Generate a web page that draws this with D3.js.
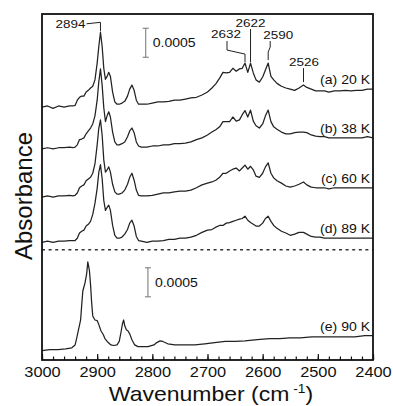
<!DOCTYPE html>
<html>
<head>
<meta charset="utf-8">
<script src="https://cdn.jsdelivr.net/npm/d3@7"></script>
<style>
  body { margin: 0; background: #fff; }
  text { font-family: "Liberation Sans", Arial, sans-serif; fill: #111; }
</style>
</head>
<body>
<div id="chart"></div>
<script>
// wavenumber grid (cm-1) for spectra a-d
var wn = [3000, 2990, 2980, 2970, 2960, 2950, 2944, 2940, 2936, 2932,
  2928, 2924, 2920, 2916, 2912, 2908, 2904, 2900, 2897, 2894,
  2891, 2888, 2885, 2882, 2879, 2876, 2872, 2868, 2864, 2860,
  2855, 2850, 2845, 2841, 2837, 2833, 2829, 2825, 2820, 2810,
  2800, 2790, 2780, 2770, 2760, 2750, 2740, 2730, 2720, 2710,
  2700, 2692, 2685, 2678, 2672, 2666, 2660, 2654, 2648, 2642,
  2637, 2632, 2627, 2622, 2617, 2612, 2606, 2600, 2595, 2590,
  2585, 2580, 2574, 2566, 2558, 2550, 2542, 2534, 2526, 2520,
  2512, 2504, 2496, 2488, 2480, 2470, 2460, 2450, 2440, 2430,
  2420, 2410, 2400];

// absorbance in units of 1e-3, relative to each trace's left baseline
var absA = [0, 0.02, -0.02, 0.02, 0, 0.02, 0.02, 0.03, 0.12, 0.17,
  0.19, 0.19, 0.26, 0.29, 0.33, 0.36, 0.47, 0.76, 1.05, 1.29,
  1.05, 0.67, 0.48, 0.53, 0.60, 0.53, 0.26, 0.09, 0.05, 0.05,
  0.07, 0.10, 0.19, 0.31, 0.38, 0.29, 0.12, 0.05, 0.05, 0.05,
  0.07, 0.09, 0.09, 0.10, 0.12, 0.12, 0.14, 0.16, 0.17, 0.21,
  0.26, 0.33, 0.40, 0.50, 0.60, 0.59, 0.60, 0.67, 0.62, 0.66,
  0.67, 0.76, 0.60, 0.76, 0.59, 0.47, 0.43, 0.52, 0.64, 0.76,
  0.53, 0.47, 0.41, 0.36, 0.33, 0.31, 0.29, 0.33, 0.38, 0.34,
  0.31, 0.28, 0.28, 0.28, 0.26, 0.28, 0.28, 0.29, 0.28, 0.29,
  0.29, 0.31, 0.31];

var absB = [0, 0.02, 0, 0.02, 0.02, 0.03, 0.02, 0.03, 0.07, 0.16,
  0.17, 0.19, 0.26, 0.31, 0.36, 0.43, 0.57, 0.84, 1.16, 1.38,
  1.10, 0.71, 0.47, 0.57, 0.64, 0.55, 0.29, 0.12, 0.07, 0.07,
  0.09, 0.12, 0.21, 0.31, 0.36, 0.28, 0.12, 0.05, 0.03, 0.03,
  0.05, 0.05, 0.07, 0.07, 0.09, 0.09, 0.10, 0.12, 0.16, 0.19,
  0.24, 0.29, 0.33, 0.38, 0.47, 0.47, 0.47, 0.55, 0.48, 0.50,
  0.59, 0.66, 0.55, 0.67, 0.48, 0.40, 0.36, 0.43, 0.57, 0.67,
  0.47, 0.38, 0.34, 0.29, 0.26, 0.26, 0.28, 0.29, 0.29, 0.28,
  0.24, 0.22, 0.21, 0.21, 0.19, 0.19, 0.19, 0.19, 0.19, 0.19,
  0.19, 0.21, 0.19];

var absC = [0, 0.02, 0, 0.02, 0.02, 0.03, 0.02, 0.03, 0.07, 0.16,
  0.19, 0.21, 0.28, 0.31, 0.34, 0.41, 0.57, 0.90, 1.19, 1.33,
  1.07, 0.64, 0.43, 0.47, 0.52, 0.43, 0.22, 0.09, 0.05, 0.05,
  0.07, 0.12, 0.22, 0.34, 0.41, 0.29, 0.12, 0.03, 0.02, 0.02,
  0.03, 0.05, 0.07, 0.07, 0.09, 0.10, 0.10, 0.12, 0.16, 0.21,
  0.24, 0.26, 0.29, 0.34, 0.41, 0.41, 0.45, 0.48, 0.50, 0.45,
  0.50, 0.55, 0.48, 0.53, 0.47, 0.36, 0.34, 0.41, 0.52, 0.59,
  0.41, 0.33, 0.28, 0.24, 0.19, 0.17, 0.19, 0.22, 0.26, 0.21,
  0.17, 0.16, 0.16, 0.16, 0.14, 0.16, 0.16, 0.16, 0.16, 0.16,
  0.16, 0.16, 0.16];

var absD = [0, 0.02, 0, 0.02, 0.02, 0.03, 0.03, 0.03, 0.07, 0.16,
  0.19, 0.21, 0.28, 0.31, 0.36, 0.48, 0.67, 0.93, 1.21, 1.34,
  1.10, 0.72, 0.55, 0.60, 0.64, 0.55, 0.29, 0.12, 0.07, 0.07,
  0.09, 0.14, 0.22, 0.33, 0.38, 0.28, 0.10, 0.03, 0.02, 0,
  0.02, 0.02, 0.03, 0.05, 0.05, 0.07, 0.07, 0.09, 0.12, 0.17,
  0.21, 0.22, 0.26, 0.29, 0.29, 0.33, 0.34, 0.36, 0.38, 0.40,
  0.41, 0.45, 0.38, 0.34, 0.31, 0.28, 0.28, 0.33, 0.41, 0.45,
  0.36, 0.29, 0.24, 0.19, 0.16, 0.12, 0.14, 0.17, 0.17, 0.14,
  0.10, 0.09, 0.09, 0.07, 0.07, 0.07, 0.07, 0.07, 0.07, 0.07,
  0.07, 0.07, 0.07];

// trace (e) has its own grid
var wnE = [3000, 2986, 2971, 2957, 2946, 2940, 2937, 2933, 2930, 2928,
  2926, 2922, 2919, 2917, 2914, 2912, 2910, 2908, 2904, 2900,
  2897, 2893, 2889, 2886, 2880, 2875, 2870, 2864, 2860, 2857,
  2854, 2852, 2850, 2847, 2844, 2841, 2837, 2832, 2826, 2819,
  2808, 2797, 2792, 2786, 2781, 2772, 2759, 2741, 2723, 2705,
  2687, 2668, 2650, 2632, 2610, 2587, 2569, 2551, 2532, 2511,
  2487, 2460, 2433, 2415, 2400];
var absE = [0, 0.02, 0.02, 0.03, 0.05, 0.10, 0.22, 0.40, 0.53, 0.79,
  1.03, 1.17, 1.33, 1.53, 1.38, 1.14, 0.83, 0.60, 0.53, 0.52,
  0.45, 0.34, 0.28, 0.21, 0.14, 0.10, 0.09, 0.10, 0.16, 0.31,
  0.47, 0.53, 0.43, 0.36, 0.34, 0.29, 0.19, 0.10, 0.07, 0.07,
  0.07, 0.10, 0.14, 0.17, 0.16, 0.12, 0.10, 0.10, 0.10, 0.12,
  0.14, 0.16, 0.16, 0.17, 0.19, 0.21, 0.21, 0.22, 0.22, 0.24,
  0.24, 0.24, 0.24, 0.26, 0.26];

var traceLabels = ["(a) 20 K", "(b) 38 K", "(c) 60 K", "(d) 89 K", "(e) 90 K"];
var traceOffsets = [4.36, 3.64, 2.81, 2.03, 0.16];
var peakMarks = [2894, 2632, 2622, 2590, 2526];
var majorTicks = [3000, 2900, 2800, 2700, 2600, 2500, 2400];
var scaleBarSize = 0.5; // 0.0005 absorbance
var scaleBarLabel = "0.0005";
var separatorLevel = 1.9;

var W = 393, H = 406;
var margin = {top: 14, right: 20, bottom: 46, left: 42};
var sx = 1.17; // text in the original is drawn a bit wide

var svg = d3.select("#chart").append("svg")
  .attr("width", W).attr("height", H);

var x = d3.scaleLinear().domain([3000, 2400]).range([margin.left, W - margin.right]);
var y = d3.scaleLinear().domain([0, 5.966]).range([H - margin.bottom, margin.top]);

var traces = [absA, absB, absC, absD].map(function(vals, i) {
  return vals.map(function(v, j) { return {w: wn[j], a: v + traceOffsets[i]}; });
});
traces.push(absE.map(function(v, j) { return {w: wnE[j], a: v + traceOffsets[4]}; }));

var line = d3.line()
  .x(function(d) { return x(d.w); })
  .y(function(d) { return y(d.a); });

svg.selectAll(".trace")
  .data(traces)
  .enter().append("path")
  .attr("class", "trace")
  .attr("d", line)
  .attr("fill", "none")
  .attr("stroke", "#222")
  .attr("stroke-width", 1.25)
  .attr("stroke-linejoin", "round");

// dashed separator between the two panels
svg.append("line")
  .attr("x1", x(3000)).attr("x2", x(2400))
  .attr("y1", y(separatorLevel)).attr("y2", y(separatorLevel))
  .attr("stroke", "#333").attr("stroke-width", 1.5)
  .attr("stroke-dasharray", "3,3.6");

// trace labels, just above the right end of each trace
traces.forEach(function(t, i) {
  var last = t[t.length - 1];
  svg.append("text")
    .attr("transform", "translate(" + (x(2400) - 3) + "," + (y(last.a) - 5) + ") scale(" + sx + ",1)")
    .attr("text-anchor", "end")
    .attr("font-size", 12)
    .text(traceLabels[i]);
});

// peak annotations on trace (a)
function peakY(w) {
  var p = traces[0][wn.indexOf(w)];
  return y(p.a);
}
var ann = svg.append("g").attr("stroke", "#222").attr("stroke-width", 1).attr("fill", "none");
var p0 = x(peakMarks[0]), p0y = peakY(peakMarks[0]);
ann.append("path").attr("d", "M" + (p0 - 14) + "," + (p0y - 8.5) + "L" + p0 + "," + (p0y - 10) + "V" + (p0y - 1));
var p1 = x(peakMarks[1]), p1y = peakY(peakMarks[1]);
ann.append("path").attr("d", "M" + (p1 - 18) + "," + (p1y - 22) + "V" + (p1y - 13) + "L" + p1 + "," + (p1y - 9) + "V" + (p1y - 1));
var p2 = x(peakMarks[2]), p2y = peakY(peakMarks[2]);
ann.append("path").attr("d", "M" + p2 + "," + (p2y - 34) + "V" + (p2y - 1));
var p3 = x(peakMarks[3]), p3y = peakY(peakMarks[3]);
ann.append("path").attr("d", "M" + (p3 + 2) + "," + (p3y - 22) + "V" + (p3y - 16) + "L" + p3 + "," + (p3y - 11) + "V" + (p3y - 3));
var p4 = x(peakMarks[4]), p4y = peakY(peakMarks[4]);
ann.append("path").attr("d", "M" + p4 + "," + (p4y - 17) + "V" + (p4y - 3));

function label(txt, px, py, anchor, size) {
  svg.append("text")
    .attr("transform", "translate(" + px + "," + py + ") scale(" + sx + ",1)")
    .attr("text-anchor", anchor)
    .attr("font-size", size)
    .text(txt);
}
label(String(peakMarks[0]), p0 - 15, p0y - 4, "end", 11.5);
label(String(peakMarks[1]), p1 - 19, p1y - 25, "middle", 11.5);
label(String(peakMarks[2]), p2, p2y - 36, "middle", 11.5);
label(String(peakMarks[3]), p3 + 10, p3y - 24, "middle", 11.5);
label(String(peakMarks[4]), p4 + 0.5, p4y - 19, "middle", 11.5);

// scale bars
function scaleBar(w, a0) {
  var bx = x(w), yb = y(a0), yt = y(a0 + scaleBarSize);
  var g = svg.append("g").attr("stroke", "#888").attr("stroke-width", 1.2);
  g.append("line").attr("x1", bx).attr("x2", bx).attr("y1", yt).attr("y2", yb);
  g.append("line").attr("x1", bx - 3).attr("x2", bx + 3).attr("y1", yt).attr("y2", yt);
  g.append("line").attr("x1", bx - 3).attr("x2", bx + 3).attr("y1", yb).attr("y2", yb);
  label(scaleBarLabel, bx + 7, (yt + yb) / 2 + 4.5, "start", 12);
}
scaleBar(2812, 5.22);
scaleBar(2808, 1.09);

// x axis: minor ticks every 20, major every 100, pointing inward
var minorTicks = d3.range(3000, 2399, -20);
svg.append("g")
  .attr("transform", "translate(0," + y(0) + ")")
  .call(d3.axisBottom(x).tickValues(minorTicks).tickSize(-3.5).tickFormat(""))
  .call(function(g) { g.select(".domain").remove(); g.selectAll("line").attr("stroke", "#111").attr("stroke-width", 1.2); });

var xAxis = svg.append("g")
  .attr("transform", "translate(0," + y(0) + ")")
  .call(d3.axisBottom(x).tickValues(majorTicks).tickSize(-6).tickPadding(7).tickFormat(d3.format("d")));
xAxis.select(".domain").remove();
xAxis.selectAll("line").attr("stroke", "#111").attr("stroke-width", 1.2);
xAxis.selectAll("text")
  .attr("font-size", 14)
  .attr("font-family", "Liberation Sans, Arial, sans-serif")
  .attr("fill", "#111")
  .attr("transform", "scale(" + sx + ",1)");

// frame
svg.append("rect")
  .attr("x", x(3000)).attr("y", y.range()[1])
  .attr("width", x(2400) - x(3000)).attr("height", y(0) - y.range()[1])
  .attr("fill", "none").attr("stroke", "#111").attr("stroke-width", 1.8);

// axis titles
var xt = svg.append("text")
  .attr("transform", "translate(" + 211 + "," + 401 + ") scale(1.15,1)")
  .attr("text-anchor", "middle")
  .attr("font-size", 20);
xt.append("tspan").text("Wavenumber (cm");
xt.append("tspan").attr("font-size", 12).attr("dy", -8).text(" -1");
xt.append("tspan").attr("dy", 8).text(")");

svg.append("text")
  .attr("transform", "translate(32,196) rotate(-90)")
  .attr("text-anchor", "middle")
  .attr("font-size", 24)
  .text("Absorbance");
</script>
</body>
</html>
